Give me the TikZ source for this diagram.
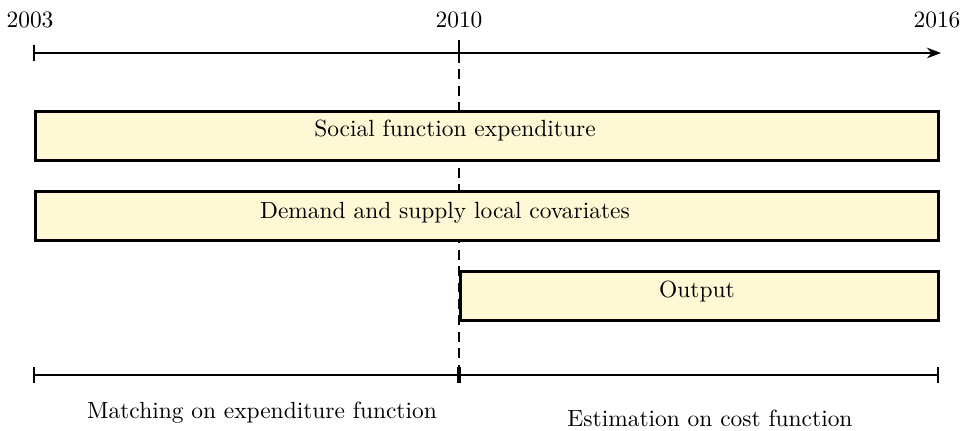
\documentclass[tikz,border=0pt]{standalone}
\usetikzlibrary{arrows.meta}
\definecolor{barfill}{RGB}{255,248,212}
\begin{document}
\begin{tikzpicture}[x=0.015cm,y=-0.015cm,
  bar/.style={draw=black,line width=1.2pt,fill=barfill,inner sep=0pt,minimum height=49*0.015cm,anchor=north west},
  axisline/.style={line width=0.95pt},
  tick/.style={line width=0.95pt},
  yearlbl/.style={inner sep=0pt},
  splitline/.style={line width=1pt,dash pattern=on 4.2pt off 2.8pt}]
\useasboundingbox (0,0) rectangle (965,430);

% year labels
\node[yearlbl] (y2003) at (30,20) {2003};
\node[yearlbl] (y2010) at (459,20) {2010};
\node[yearlbl] (y2016) at (937,20) {2016};

% top time axis
\coordinate (a0) at (34,53);
\coordinate (a1) at (459,53);
\coordinate (a2) at (941,53);
\coordinate (c1) at (459,375);

% split between the two periods, behind the bars
\draw[splitline] (a1) -- (c1);

\draw[axisline,-{Stealth[length=6pt,width=4.5pt]}] (a0) -- (a2);
\draw[tick] ([yshift=3.6pt]a0) -- ([yshift=-3.6pt]a0);
\draw[tick] ([yshift=5.5pt]a1) -- ([yshift=-4.2pt]a1);

% data bars
\node[bar,minimum width=903*0.015cm] (b1) at (34,110) {};
\node[bar,minimum width=903*0.015cm] (b2) at (34,190) {};
\node[bar,minimum width=478*0.015cm] (b3) at (459,270) {};
\node (t1) at (455,131) {Social function expenditure};
\node (t2) at (445,213) {Demand and supply local covariates};
\node (t3) at (697,292) {Output};

% bottom period axis
\coordinate (c0) at (34,375);
\coordinate (c2) at (938,375);
\draw[axisline] (c0) -- (c2);
\draw[tick] ([yshift=3.6pt]c0) -- ([yshift=-3.6pt]c0);
\draw[tick] ([yshift=3.6pt]c2) -- ([yshift=-3.6pt]c2);
\draw[line width=2pt] ([yshift=3.6pt]c1) -- ([yshift=-3.6pt]c1);

% period labels
\node (p1) at (262,413) {Matching on expenditure function};
\node (p2) at (710,418) {Estimation on cost function};
\end{tikzpicture}
\end{document}
